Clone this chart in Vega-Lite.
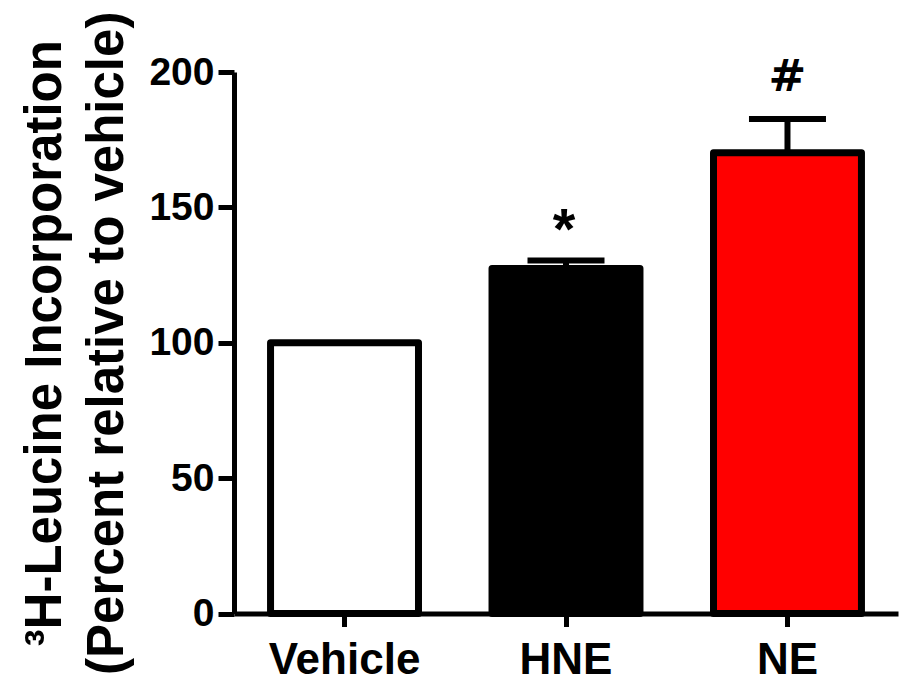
{
  "$schema": "https://vega.github.io/schema/vega-lite/v6.json",
  "width": 664,
  "height": 541.5,
  "autosize": {"type": "none"},
  "padding": {"left": 234, "top": 72, "right": 2, "bottom": 73.5},
  "background": "white",
  "config": {"view": {"stroke": null}, "font": "Liberation Sans"},
  "data": {
    "values": [
      {"group": "Vehicle", "mean": 100, "upper": 100, "sig": ""},
      {"group": "HNE", "mean": 127.4, "upper": 130.4, "sig": "*"},
      {"group": "NE", "mean": 170.2, "upper": 182.6, "sig": "#"}
    ]
  },
  "encoding": {
    "x": {
      "field": "group",
      "type": "nominal",
      "sort": ["Vehicle", "HNE", "NE"],
      "scale": {"paddingInner": 0.332, "paddingOuter": 0.165},
      "axis": {
        "title": null,
        "labelAngle": 0,
        "labelFont": "Liberation Sans",
        "labelFontSize": 44,
        "labelFontWeight": "bold",
        "labelColor": "black",
        "labelPadding": 12,
        "domainWidth": 5,
        "domainColor": "black",
        "tickWidth": 5,
        "tickSize": 13,
        "tickColor": "black"
      }
    },
    "y": {
      "field": "mean",
      "type": "quantitative",
      "scale": {"domain": [0, 200], "nice": false},
      "title": ["³H-Leucine Incorporation", "(Percent relative to vehicle)"],
      "axis": {
        "values": [0, 50, 100, 150, 200],
        "grid": false,
        "titleFont": "Liberation Sans",
        "titleFontSize": 51,
        "titleFontWeight": "bold",
        "titleColor": "black",
        "titleX": -174,
        "titleY": 270.75,
        "titleAngle": -90,
        "titleAlign": "center",
        "titleBaseline": "alphabetic",
        "titleLineHeight": 62,
        "labelFont": "Liberation Sans",
        "labelFontSize": 39,
        "labelFontWeight": "bold",
        "labelColor": "black",
        "labelPadding": 4,
        "tickSize": 16,
        "tickWidth": 5,
        "tickColor": "black",
        "domainWidth": 5,
        "domainColor": "black"
      }
    }
  },
  "layer": [
    {
      "mark": {"type": "rule", "strokeWidth": 6, "color": "black"},
      "transform": [{"filter": "datum.upper > datum.mean"}],
      "encoding": {"y2": {"field": "upper"}}
    },
    {
      "mark": {"type": "tick", "size": 77, "thickness": 6, "color": "black", "opacity": 1},
      "transform": [{"filter": "datum.upper > datum.mean"}],
      "encoding": {"y": {"field": "upper", "type": "quantitative", "title": ["³H-Leucine Incorporation", "(Percent relative to vehicle)"]}}
    },
    {
      "mark": {"type": "bar", "stroke": "black", "strokeWidth": 7, "strokeJoin": "round"},
      "encoding": {
        "fill": {
          "field": "group",
          "type": "nominal",
          "scale": {"domain": ["Vehicle", "HNE", "NE"], "range": ["#ffffff", "#000000", "#ff0000"]},
          "legend": null
        }
      }
    },
    {
      "mark": {"type": "text", "fontSize": 58, "fontWeight": "bold", "baseline": "alphabetic", "align": "center", "dy": -11, "dx": -2, "color": "black"},
      "transform": [{"filter": "datum.sig == '*'"}],
      "encoding": {
        "y": {"field": "upper", "type": "quantitative", "title": ["³H-Leucine Incorporation", "(Percent relative to vehicle)"]},
        "text": {"field": "sig"}
      }
    },
    {
      "mark": {"type": "text", "font": "DejaVu Sans", "fontSize": 45, "fontWeight": "bold", "baseline": "alphabetic", "align": "center", "dy": -28, "color": "black"},
      "transform": [{"filter": "datum.sig == '#'"}],
      "encoding": {
        "y": {"field": "upper", "type": "quantitative", "title": ["³H-Leucine Incorporation", "(Percent relative to vehicle)"]},
        "text": {"field": "sig"}
      }
    }
  ]
}
